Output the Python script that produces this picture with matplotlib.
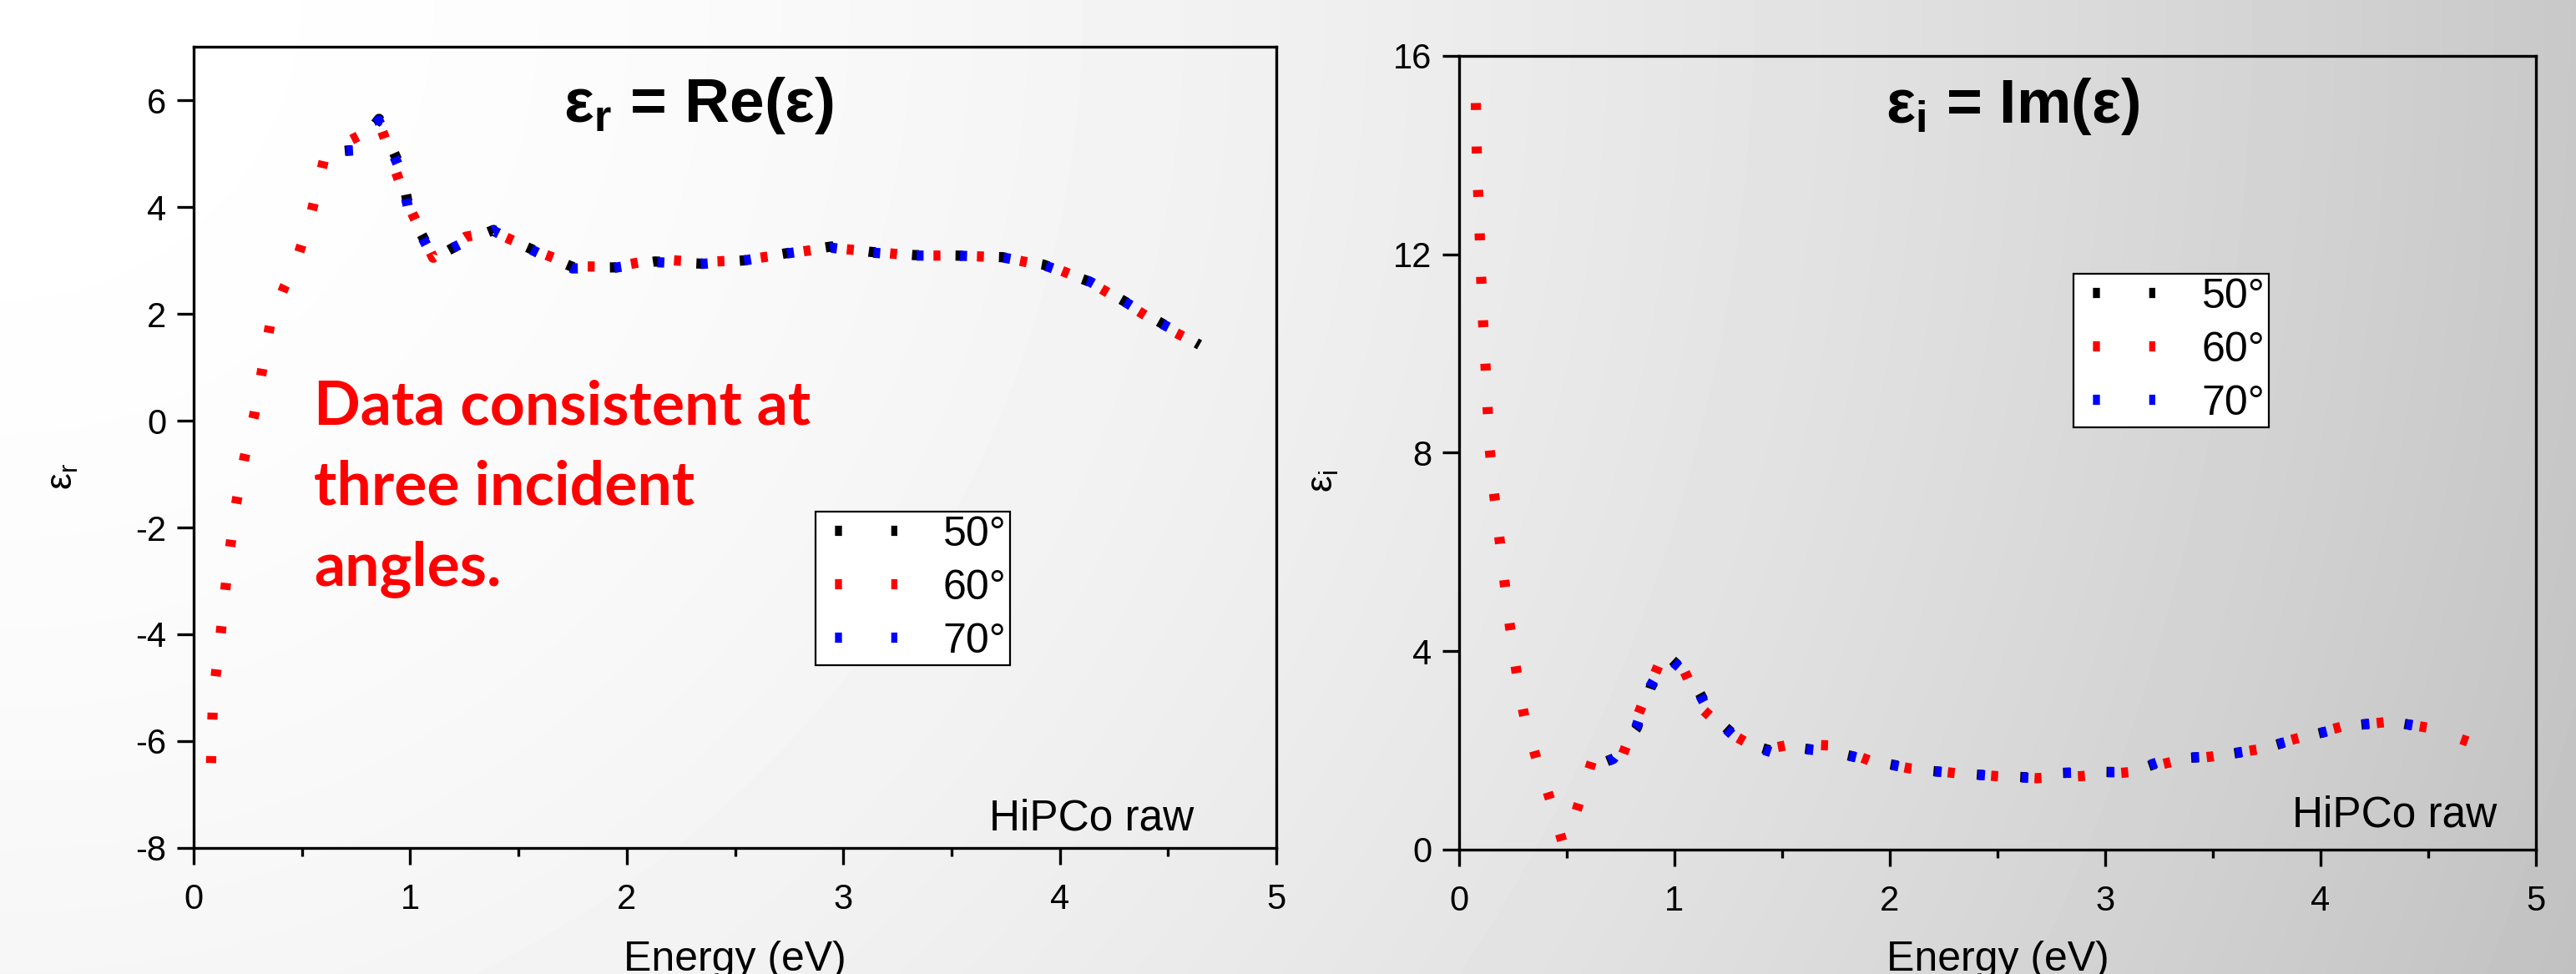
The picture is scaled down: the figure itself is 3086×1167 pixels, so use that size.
import matplotlib
matplotlib.use("Agg")
import matplotlib.pyplot as plt
from matplotlib.lines import Line2D
from matplotlib.ticker import MultipleLocator
import numpy as np

plt.rcParams['font.family'] = ['Liberation Sans', 'DejaVu Sans']
plt.rcParams['mathtext.fontset'] = 'custom'
plt.rcParams['mathtext.rm'] = 'Liberation Sans'
plt.rcParams['mathtext.it'] = 'Liberation Sans:italic'
plt.rcParams['mathtext.bf'] = 'Liberation Sans:bold'
plt.rcParams['lines.scale_dashes'] = False
plt.rcParams['axes.unicode_minus'] = False

# ---- eps_r = Re(eps) ----
E_r_60 = [0.080, 0.088, 0.100, 0.123, 0.142, 0.165, 0.190, 0.234, 0.280, 0.314, 0.353,
          0.418, 0.468, 0.540, 0.600, 0.630, 0.762, 0.855, 0.890, 0.968, 1.047, 1.106,
          1.254, 1.381, 1.509, 1.604, 1.765, 1.940, 2.140, 2.340, 2.530, 2.750, 2.930,
          3.120, 3.320, 3.520, 3.730, 3.920, 4.000, 4.140, 4.300, 4.470, 4.640]
er_60 = [-6.41, -5.36, -4.83, -4.05, -3.30, -2.48, -1.69, -0.70, 0.12, 0.90, 1.81,
         2.50, 2.91, 3.83, 4.86, 5.05, 5.33, 5.60, 5.20, 4.25, 3.55, 3.05,
         3.44, 3.54, 3.31, 3.14, 2.89, 2.88, 3.02, 2.97, 3.00, 3.13, 3.24,
         3.17, 3.09, 3.09, 3.06, 2.91, 2.82, 2.59, 2.21, 1.78, 1.43]

E_r_70 = [0.610, 0.742, 0.854, 0.955, 0.994, 1.106, 1.234, 1.381, 1.500, 1.600, 1.750,
          1.940, 2.120, 2.330, 2.530, 2.720, 2.940, 3.120, 3.320, 3.520, 3.730, 3.920,
          4.140, 4.290, 4.440, 4.640]
er_70 = [5.03, 5.06, 5.62, 4.68, 3.90, 3.05, 3.31, 3.56, 3.32, 3.12, 2.85,
         2.86, 2.97, 2.93, 2.99, 3.12, 3.24, 3.15, 3.09, 3.09, 3.06, 2.92,
         2.60, 2.25, 1.88, 1.45]

E_r_50 = [0.615, 0.745, 0.856, 0.957, 0.996, 1.110, 1.240, 1.385, 1.505, 1.605, 1.760,
          1.950, 2.130, 2.340, 2.540, 2.730, 2.945, 3.125, 3.325, 3.525, 3.735, 3.925,
          4.145, 4.300, 4.450, 4.645]
er_50 = [5.02, 5.07, 5.65, 4.72, 3.92, 3.04, 3.33, 3.57, 3.31, 3.13, 2.86,
         2.87, 2.98, 2.94, 3.00, 3.13, 3.26, 3.16, 3.10, 3.09, 3.06, 2.92,
         2.59, 2.23, 1.87, 1.42]

# ---- eps_i = Im(eps) ----
E_i_60 = [0.078, 0.080, 0.083, 0.093, 0.101, 0.112, 0.123, 0.132, 0.143, 0.162, 0.185,
          0.207, 0.229, 0.255, 0.284, 0.304, 0.358, 0.411, 0.438, 0.480, 0.541, 0.616,
          0.750, 0.848, 0.940, 1.045, 1.128, 1.237, 1.398, 1.553, 1.720, 1.910, 2.090,
          2.310, 2.500, 2.680, 2.885, 3.110, 3.330, 3.500, 3.710, 3.880, 4.100, 4.325,
          4.510, 4.690]
ei_60 = [15.05, 14.60, 13.90, 12.80, 11.70, 10.60, 9.75, 8.95, 8.05, 7.20, 6.37,
         5.56, 4.73, 3.92, 3.10, 2.67, 1.85, 1.17, 0.80, 0.15, 0.72, 1.77,
         1.80, 2.90, 3.86, 3.61, 2.84, 2.40, 2.00, 2.13, 2.10, 1.79, 1.64,
         1.54, 1.48, 1.44, 1.48, 1.56, 1.79, 1.88, 2.02, 2.23, 2.48, 2.58,
         2.45, 2.17]

E_i_70 = [0.606, 0.716, 0.822, 0.887, 0.966, 1.077, 1.164, 1.305, 1.466, 1.570, 1.740,
          1.910, 2.090, 2.150, 2.310, 2.500, 2.680, 2.750, 2.940, 3.110, 3.290, 3.500,
          3.710, 3.940, 4.140, 4.325, 4.510, 4.580]
ei_70 = [1.64, 1.83, 2.46, 3.28, 3.89, 3.47, 2.74, 2.17, 1.94, 2.04, 1.97,
         1.79, 1.64, 1.60, 1.54, 1.48, 1.44, 1.54, 1.56, 1.56, 1.83, 1.88,
         2.02, 2.29, 2.50, 2.58, 2.45, 2.35]

E_i_50 = [0.610, 0.720, 0.825, 0.890, 0.970, 1.080, 1.170, 1.310, 1.480, 1.580, 1.745,
          1.920, 2.100, 2.155, 2.320, 2.510, 2.690, 2.760, 2.950, 3.120, 3.300, 3.510,
          3.720, 3.930, 4.145, 4.330, 4.515, 4.580]
ei_50 = [1.65, 1.84, 2.45, 3.27, 3.90, 3.46, 2.73, 2.18, 1.95, 2.05, 1.96,
         1.79, 1.64, 1.60, 1.54, 1.48, 1.45, 1.54, 1.57, 1.56, 1.83, 1.88,
         2.02, 2.28, 2.50, 2.58, 2.44, 2.33]

angles = ["50°", "60°", "70°"]
colors = ["black", "red", "blue"]

W, H, DPI = 3086, 1167, 100
fig = plt.figure(figsize=(W / DPI, H / DPI), dpi=DPI)

# grey slide background, lighter at top left
bg = fig.add_axes([0, 0, 1, 1], zorder=-10)
yy, xx = np.mgrid[0:H:4, 0:W:4]
d = np.sqrt(xx ** 2 + yy ** 2) / W
shade = 255 - 55 * d ** 1.86
bg.imshow(shade, cmap="gray", vmin=0, vmax=255, aspect="auto",
          extent=[0, 1, 0, 1], interpolation="bilinear")
bg.axis("off")

ax1 = fig.add_axes([0.0752, 0.1294, 0.4203, 0.8226])
ax2 = fig.add_axes([0.5664, 0.1277, 0.4180, 0.8149])

LW = 8.8          # pt
ON, OFF = 6.0, 31.5


def draw(ax, xs, ys, offsets):
    for x, y, c, off in zip(xs, ys, colors, offsets):
        ax.plot(x, y, color=c, lw=LW, linestyle=(off, (ON, OFF)),
                dash_capstyle="butt")


draw(ax1, [E_r_50, E_r_60, E_r_70], [er_50, er_60, er_70], [22.0, 0.0, 20.0])
draw(ax2, [E_i_50, E_i_60, E_i_70], [ei_50, ei_60, ei_70], [22.0, 0.0, 20.0])

for ax in (ax1, ax2):
    ax.set_facecolor("none")
    ax.set_xlim(0, 5)
    ax.xaxis.set_major_locator(MultipleLocator(1))
    ax.xaxis.set_minor_locator(MultipleLocator(0.5))
    ax.tick_params(axis="both", which="major", direction="out", length=14.4,
                   width=2.4, labelsize=30, pad=9)
    ax.tick_params(axis="x", which="major", pad=16)
    ax.tick_params(axis="x", which="minor", direction="out", length=7, width=2.4)
    for s in ax.spines.values():
        s.set_linewidth(2.4)
    ax.set_xlabel("Energy (eV)", fontsize=36, va="baseline")
    ax.xaxis.set_label_coords(0.5, -0.153)

    handles = [Line2D([], [], color=c, lw=LW, linestyle=(35.3, (ON, 42.5)),
                      dash_capstyle="butt")
               for c in colors]
    leg = ax.legend(handles, angles, fontsize=36, frameon=True, fancybox=False,
                    framealpha=1, edgecolor="black", borderpad=0.1,
                    handlelength=1.86, handletextpad=1.1, labelspacing=0.36,
                    loc="upper left", borderaxespad=0)
    leg.get_frame().set_linewidth(1.6)

ax1.set_ylim(-8, 7)
ax1.yaxis.set_major_locator(MultipleLocator(2))
ax2.set_ylim(0, 16)
ax2.yaxis.set_major_locator(MultipleLocator(4))

ax1.get_legend().set_bbox_to_anchor((0.574, 0.42))
ax2.get_legend().set_bbox_to_anchor((0.571, 0.7256))

ax1.set_ylabel("ε$_\\mathrm{r}$", fontsize=32, va="center")
ax1.yaxis.set_label_coords(-0.121, 0.464)
ax2.set_ylabel("ε$_\\mathrm{i}$", fontsize=32, va="center")
ax2.yaxis.set_label_coords(-0.126, 0.464)

ax1.text(0.466, 0.906, "ε$_\\mathbf{r}$ = Re(ε)", transform=ax1.transAxes,
         ha="center", va="baseline", fontsize=54, fontweight="bold")
ax2.text(0.514, 0.916, "ε$_\\mathbf{i}$ = Im(ε)", transform=ax2.transAxes,
         ha="center", va="baseline", fontsize=53, fontweight="bold")

ax1.text(0.924, 0.022, "HiPCo raw", transform=ax1.transAxes, ha="right",
         va="baseline", fontsize=37)
ax2.text(0.9636, 0.029, "HiPCo raw", transform=ax2.transAxes, ha="right",
         va="baseline", fontsize=37)

ax1.text(0.111, 0.585, "Data consistent at\nthree incident\nangles.",
         transform=ax1.transAxes, ha="left", va="top", color="red",
         fontsize=52.8, fontweight="bold", family=["Lato", "DejaVu Sans"],
         linespacing=1.54)

fig.savefig("out.png", dpi=DPI)
